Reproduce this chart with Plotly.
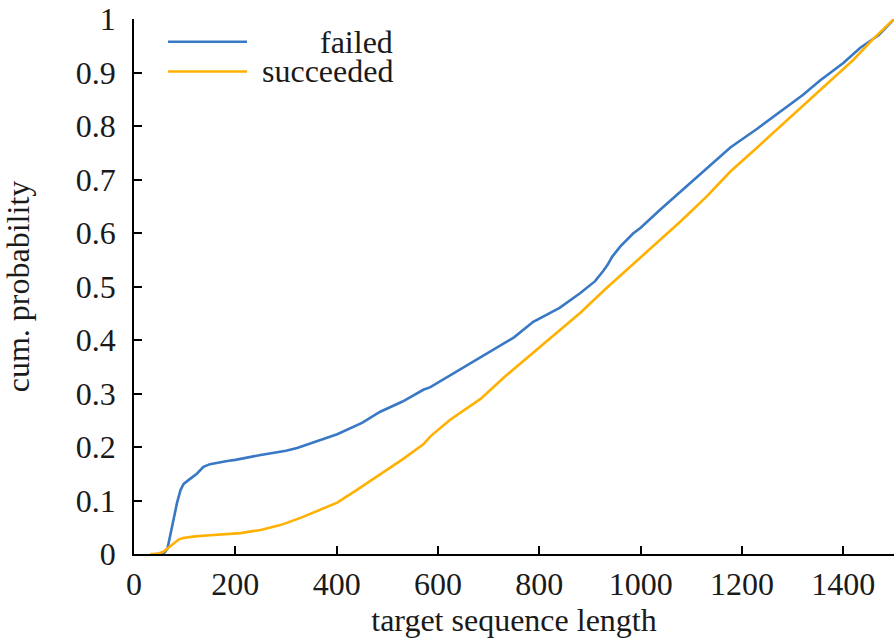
import plotly.graph_objects as go

failed_x = [40, 58, 66, 75, 85, 92, 98, 110, 124, 137, 150, 184, 200, 250, 300, 322, 350, 401, 450,
            486, 530, 571, 585, 624, 660, 703, 750, 788, 840, 881, 910, 926, 935, 944, 960, 985,
            1000, 1040, 1078, 1130, 1177, 1230, 1275, 1320, 1354, 1400, 1433, 1470, 1500]
failed_y = [0, 0, 0.01, 0.05, 0.096, 0.12, 0.131, 0.14, 0.15, 0.163, 0.168, 0.174, 0.176, 0.185,
            0.193, 0.198, 0.207, 0.224, 0.245, 0.266, 0.285, 0.307, 0.312, 0.334, 0.353, 0.377,
            0.405, 0.434, 0.46, 0.488, 0.51, 0.529, 0.541, 0.556, 0.575, 0.599, 0.61, 0.645,
            0.677, 0.72, 0.760, 0.795, 0.826, 0.858, 0.885, 0.918, 0.946, 0.97, 1.0]

succeeded_x = [32, 45, 58, 68, 78, 88, 97, 120, 150, 190, 210, 250, 289, 330, 370, 401, 440, 486,
               530, 571, 585, 624, 684, 730, 782, 830, 881, 930, 980, 1030, 1078, 1130, 1177,
               1230, 1275, 1320, 1374, 1420, 1459, 1500]
succeeded_y = [0, 0, 0.004, 0.012, 0.02, 0.027, 0.03, 0.033, 0.035, 0.037, 0.039, 0.045, 0.054,
               0.068, 0.084, 0.096, 0.12, 0.149, 0.177, 0.205, 0.22, 0.251, 0.29, 0.33, 0.372,
               0.41, 0.451, 0.495, 0.538, 0.58, 0.621, 0.668, 0.715, 0.76, 0.799, 0.838, 0.884,
               0.924, 0.963, 1.0]

x_ticks = [0, 200, 400, 600, 800, 1000, 1200, 1400]
y_ticks = [0, 0.1, 0.2, 0.3, 0.4, 0.5, 0.6, 0.7, 0.8, 0.9, 1]
y_tick_text = ["0", "0.1", "0.2", "0.3", "0.4", "0.5", "0.6", "0.7", "0.8", "0.9", "1"]

series_names = ["failed", "succeeded"]
BLUE = "#3878C4"
YELLOW = "#FFB000"
FONT = "Liberation Serif"
FS = 32
TXT = "#1a1a1a"

fig = go.Figure()
fig.add_trace(go.Scatter(x=failed_x, y=failed_y, mode="lines", name=series_names[0],
                         line=dict(color=BLUE, width=2.6), cliponaxis=False))
fig.add_trace(go.Scatter(x=succeeded_x, y=succeeded_y, mode="lines", name=series_names[1],
                         line=dict(color=YELLOW, width=2.6), cliponaxis=False))

# manual legend with right-aligned text
leg_y = [0.9575, 0.902]
colors = [BLUE, YELLOW]
for name, yy, c in zip(series_names, leg_y, colors):
    fig.add_shape(type="line", xref="paper", yref="paper", x0=0.0447, x1=0.1487, y0=yy, y1=yy,
                  line=dict(color=c, width=2.6))
    fig.add_annotation(xref="paper", yref="paper", x=0.343, y=yy, text=name, showarrow=False,
                       xanchor="right", yanchor="middle", font=dict(family=FONT, size=FS, color=TXT))

fig.update_layout(
    width=895, height=642,
    margin=dict(l=134, r=1, t=13, b=88),
    paper_bgcolor="white", plot_bgcolor="white",
    showlegend=False,
    font=dict(family=FONT, size=FS, color=TXT),
)
fig.update_xaxes(range=[0, 1500], tickvals=x_ticks, ticks="inside", ticklen=8, tickwidth=1.5,
                 tickcolor="black", showline=True, linecolor="black", linewidth=1.5,
                 showgrid=False, zeroline=False, ticklabelstandoff=1, ticklabeloverflow="allow",
                 title=dict(text="target sequence length", standoff=0,
                            font=dict(family=FONT, size=FS)))
fig.update_yaxes(range=[0, 1.0001], tickvals=y_ticks, ticktext=y_tick_text, ticks="inside",
                 ticklen=8, tickwidth=1.5, ticklabeloverflow="allow",
                 tickcolor="black", showline=True, linecolor="black", linewidth=1.5,
                 showgrid=False, zeroline=False, ticklabelstandoff=10,
                 title=dict(text="cum. probability", standoff=42,
                            font=dict(family=FONT, size=FS)))

fig.write_html("out.html", config={"displayModeBar": False},
               post_script="document.body.style.margin='0';")
